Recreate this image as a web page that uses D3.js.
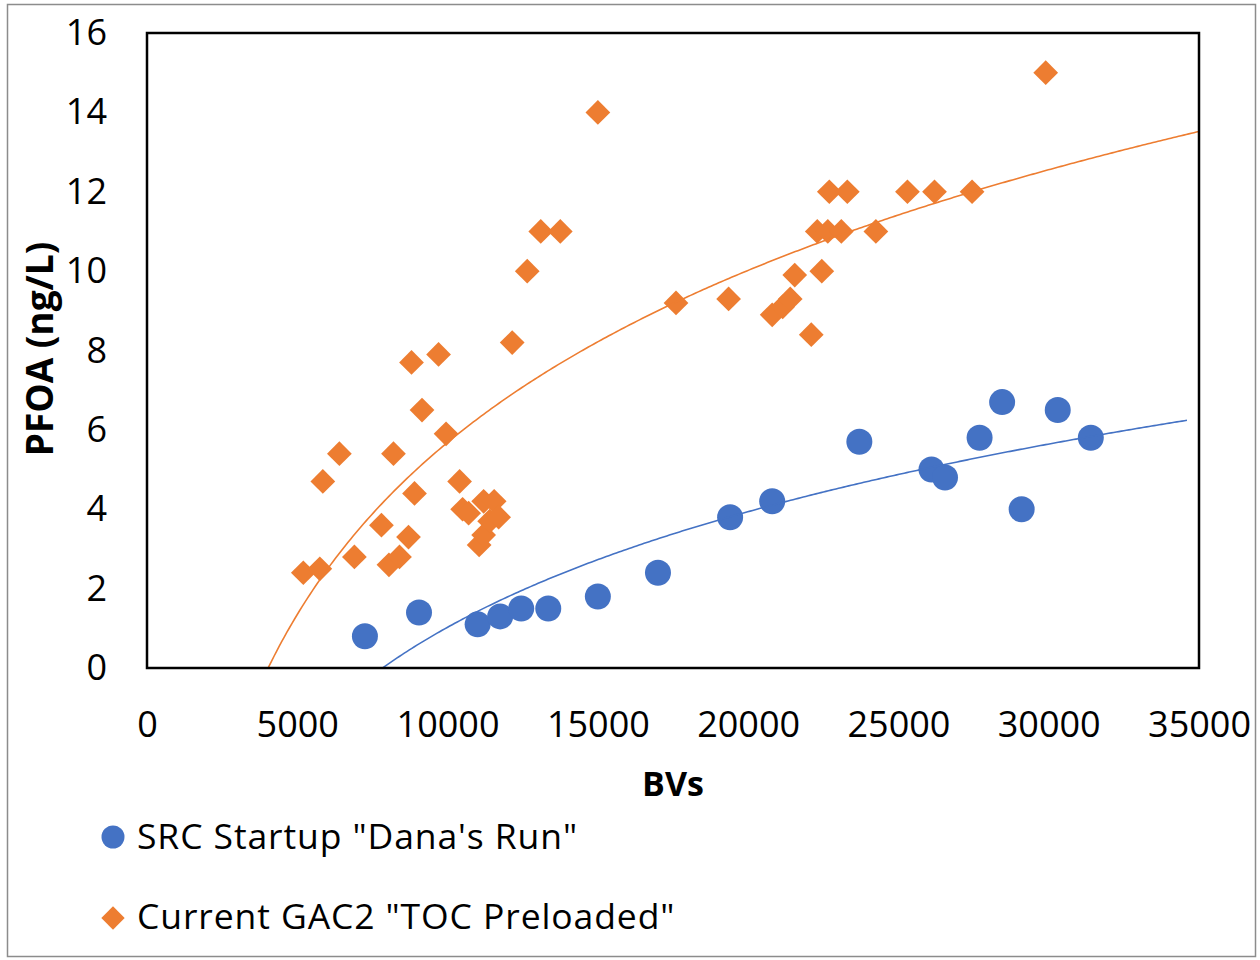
<!DOCTYPE html>
<html>
<head>
<meta charset="utf-8">
<script src="https://cdn.jsdelivr.net/npm/d3@7"></script>
<style>
  html, body { margin: 0; padding: 0; background: #fff; }
  svg { display: block; font-family: "Open Sans", "Noto Sans", sans-serif; }
</style>
</head>
<body>
<svg id="chart" width="1260" height="960"></svg>
<script>
// ---- Data ----
const srcBV   = [7250, 9050, 11000, 11750, 12450, 13350, 15000, 17000, 19400, 20800, 23700, 26100, 26550, 27700, 28450, 29100, 30300, 31400];
const srcPFOA = [0.8, 1.4, 1.1, 1.3, 1.5, 1.5, 1.8, 2.4, 3.8, 4.2, 5.7, 5.0, 4.8, 5.8, 6.7, 4.0, 6.5, 5.8];

const gacBV   = [5200, 5750, 5850, 6400, 6900, 7800, 8050, 8200, 8400, 8700, 8800, 8900, 9150, 9700, 9950,
                 10400, 10500, 10700, 11050, 11200, 11200, 11400, 11550, 11700, 12150, 12650, 13100, 13750, 15000,
                 17600, 19350, 20800, 21150, 21400, 21550, 22100, 22300, 22450, 22650, 22700, 23100, 23300, 24250,
                 25300, 26200, 27450, 29900];
const gacPFOA = [2.4, 2.5, 4.7, 5.4, 2.8, 3.6, 2.6, 5.4, 2.8, 3.3, 7.7, 4.4, 6.5, 7.9, 5.9,
                 4.7, 4.0, 3.9, 3.1, 3.35, 4.2, 3.7, 4.2, 3.8, 8.2, 10, 11, 11, 14,
                 9.2, 9.3, 8.9, 9.1, 9.3, 9.9, 8.4, 11, 10, 11, 12, 11, 12, 11,
                 12, 12, 12, 15];

const seriesNames = ['SRC Startup "Dana\'s Run"', 'Current GAC2 "TOC Preloaded"'];
const xTicks = [0, 5000, 10000, 15000, 20000, 25000, 30000, 35000];
const yTicks = [0, 2, 4, 6, 8, 10, 12, 14, 16];
const trendRangeSrc = [1000, 34600];
const trendRangeGac = [1000, 35000];
const xTitle = "BVs";
const yTitle = "PFOA (ng/L)";

const BLUE = "#4472C4", ORANGE = "#ED7D31";

// ---- Layout ----
const svg = d3.select("#chart");
const plot = { left: 147, top: 33, right: 1199, bottom: 668 };
const x = d3.scaleLinear().domain([0, 35000]).range([plot.left, plot.right]);
const y = d3.scaleLinear().domain([0, 16]).range([plot.bottom, plot.top]);

// outer chart border
svg.append("rect").attr("x", 7.5).attr("y", 4.5).attr("width", 1248).attr("height", 952)
  .attr("fill", "#fff").attr("stroke", "#8c8c8c").attr("stroke-width", 1.5);

svg.append("defs").append("clipPath").attr("id", "plotClip")
  .append("rect").attr("x", plot.left).attr("y", plot.top)
  .attr("width", plot.right - plot.left).attr("height", plot.bottom - plot.top);

// axes (labels only)
const xAxis = svg.append("g").attr("transform", `translate(0,${plot.bottom})`)
  .call(d3.axisBottom(x).tickValues(xTicks).tickSize(0).tickPadding(43).tickFormat(d3.format("d")));
const yAxis = svg.append("g").attr("transform", `translate(${plot.left},0)`)
  .call(d3.axisLeft(y).tickValues(yTicks).tickSize(0).tickPadding(40).tickFormat(d3.format("d")));
[xAxis, yAxis].forEach(g => {
  g.select(".domain").remove();
  g.selectAll("text").attr("font-family", "'Open Sans', sans-serif").attr("font-size", 36).attr("fill", "#000");
});

// trendlines: least-squares logarithmic fit y = a ln(x) + b
function logFit(xs, ys) {
  const lx = xs.map(Math.log);
  const mx = d3.mean(lx), my = d3.mean(ys);
  let sxy = 0, sxx = 0;
  lx.forEach((v, i) => { sxy += (v - mx) * (ys[i] - my); sxx += (v - mx) * (v - mx); });
  const a = sxy / sxx;
  return { a, b: my - a * mx };
}
function trendPath(xs, ys, range) {
  const f = logFit(xs, ys);
  const pts = d3.range(0, 401).map(i => {
    const bv = range[0] + (range[1] - range[0]) * i / 400;
    return [bv, f.a * Math.log(bv) + f.b];
  }).filter(p => p[1] >= -0.5);
  return d3.line().x(p => x(p[0])).y(p => y(p[1]))(pts);
}

const plotG = svg.append("g").attr("clip-path", "url(#plotClip)");

// markers
const srcData = srcBV.map((v, i) => ({ x: v, y: srcPFOA[i] }));
const gacData = gacBV.map((v, i) => ({ x: v, y: gacPFOA[i] }));

plotG.append("g").selectAll("path").data(gacData).join("path")
  .attr("d", d3.symbol().type(d3.symbolSquare).size(17.5 * 17.5)())
  .attr("transform", d => `translate(${x(d.x)},${y(d.y)}) rotate(45)`)
  .attr("fill", ORANGE);

plotG.append("g").selectAll("circle").data(srcData).join("circle")
  .attr("cx", d => x(d.x)).attr("cy", d => y(d.y)).attr("r", 13)
  .attr("fill", BLUE);

plotG.append("path").attr("d", trendPath(gacBV, gacPFOA, trendRangeGac))
  .attr("fill", "none").attr("stroke", ORANGE).attr("stroke-width", 1.6);
plotG.append("path").attr("d", trendPath(srcBV, srcPFOA, trendRangeSrc))
  .attr("fill", "none").attr("stroke", BLUE).attr("stroke-width", 1.6);

// plot border
svg.append("rect").attr("x", plot.left).attr("y", plot.top)
  .attr("width", plot.right - plot.left).attr("height", plot.bottom - plot.top)
  .attr("fill", "none").attr("stroke", "#000").attr("stroke-width", 2.5);

// axis titles
svg.append("text").attr("x", (plot.left + plot.right) / 2).attr("y", 796)
  .attr("text-anchor", "middle").attr("font-size", 34).attr("font-weight", "bold").text(xTitle);
svg.append("text").attr("transform", `translate(53,349) rotate(-90)`)
  .attr("text-anchor", "middle").attr("font-size", 37).attr("font-weight", "bold").text(yTitle);

// legend
const leg = svg.append("g");
leg.append("circle").attr("cx", 113).attr("cy", 837).attr("r", 11.5).attr("fill", BLUE);
leg.append("path").attr("d", d3.symbol().type(d3.symbolSquare).size(16.5 * 16.5)())
  .attr("transform", "translate(113,918) rotate(45)").attr("fill", ORANGE);
leg.append("text").attr("x", 137).attr("y", 849).attr("font-size", 35.5).attr("letter-spacing", 0.9).text(seriesNames[0]);
leg.append("text").attr("x", 137).attr("y", 929).attr("font-size", 35.5).attr("letter-spacing", 0.9).text(seriesNames[1]);
</script>
</body>
</html>
